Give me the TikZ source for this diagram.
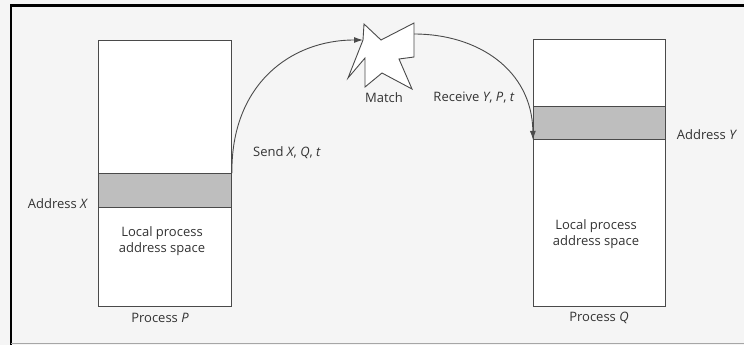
\documentclass[tikz,border=0pt]{standalone}
\usepackage{fontspec}
\setmainfont{Open Sans}
\usetikzlibrary{arrows.meta}
\definecolor{ink}{HTML}{4A4A4A}
\definecolor{txt}{HTML}{333333}
\definecolor{band}{HTML}{BEBEBE}
\definecolor{paper}{HTML}{F5F5F5}
\begin{document}
\begin{tikzpicture}[x=1pt,y=-1pt,
  memory/.style={draw=ink,line width=0.9pt,fill=white,rectangle,inner sep=0pt,anchor=north west},
  bandbox/.style={draw=ink,line width=0.9pt,fill=band,rectangle,inner sep=0pt,anchor=north west},
  lbl/.style={font=\fontsize{13}{15.5}\selectfont,text=txt,inner sep=0pt,align=center},
  conn/.style={draw=ink,line width=0.9pt,-{Latex[length=9pt,width=6pt]}}]
\useasboundingbox (0,0) rectangle (744,345);
\fill[paper] (0,0) rectangle (744,345);
\draw[black,line width=2.2pt] (10,5.5) -- (744,5.5);
\draw[black,line width=2.2pt] (11,5) -- (11,345);
\draw[gray!70,line width=1.2pt] (11,343.5) -- (744,343.5);
% Process P
\node[memory,minimum width=133pt,minimum height=266pt] (P) at (98,40) {};
\node[bandbox,minimum width=133pt,minimum height=34pt] (bandP) at (98,173) {};
% Process Q
\node[memory,minimum width=132pt,minimum height=267pt] (Q) at (533,39) {};
\node[bandbox,minimum width=132pt,minimum height=33pt] (bandQ) at (533,106) {};
% Match star
\coordinate (starin) at (363,40);
\coordinate (starout) at (414,34);
\draw[ink,line width=0.9pt,fill=white,line join=miter]
  (364,24) -- (381,40) -- (414,23) -- (414,57) -- (399,59) -- (412,89)
  -- (382,73) -- (365,87) -- (365,58) -- (348,78) -- (363,40) -- cycle;
% labels
\node[lbl] (ax) at (58,204) {Address \textit{X}};
\node[lbl] (lpP) at (162,241) {Local process\\address space};
\node[lbl] (pP) at (160,318) {Process \textit{P}};
\node[lbl] (send) at (287,153) {Send \textit{X}, \textit{Q}, \textit{t}};
\node[lbl] (match) at (384,98) {Match};
\node[lbl] (recv) at (474,98) {Receive \textit{Y}, \textit{P}, \textit{t}};
\node[lbl] (ay) at (707,135) {Address \textit{Y}};
\node[lbl] (lpQ) at (596,234) {Local process\\address space};
\node[lbl] (pQ) at (599,318) {Process \textit{Q}};
% connectors
\draw[conn] (bandP.north east) .. controls (231,85) and (290,40) .. (starin);
\draw[conn] (starout) .. controls (478,34) and (532,70) .. (bandQ.south west);
\end{tikzpicture}
\end{document}
